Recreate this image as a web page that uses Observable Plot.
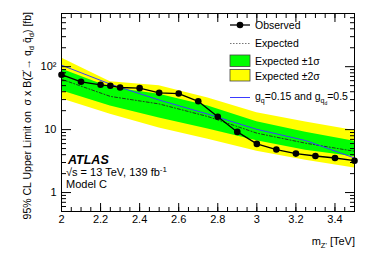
<!DOCTYPE html>
<html>
<head>
<meta charset="utf-8">
<script src="https://cdn.jsdelivr.net/npm/d3@7"></script>
<script src="https://cdn.jsdelivr.net/npm/@observablehq/plot@0.6"></script>
<style>
  html, body { margin: 0; padding: 0; background: white; }
  #chart { width: 374px; height: 253px; }
  svg text { font-family: "Liberation Sans", Arial, sans-serif; }
</style>
</head>
<body>
<div id="chart"></div>
<script>
// Observed limit points
const mass = [2.0, 2.1, 2.2, 2.25, 2.3, 2.4, 2.5, 2.6, 2.7, 2.8, 2.9, 3.0, 3.1, 3.2, 3.3, 3.4, 3.5];
const observed = [74.5, 57.5, 51.5, 49.7, 46.7, 45.6, 38.4, 37.4, 28.2, 16.0, 9.2, 5.93, 4.82, 4.16, 3.81, 3.54, 3.21];
// Expected limit and bands
const expMass = [2.0, 2.25, 2.5, 2.75, 3.0, 3.25, 3.5];
const expected = [63.1, 33.7, 25.6, 16.1, 8.79, 6.08, 4.53];
const minus1 = [41.3, 23.8, 15.3, 10.2, 6.67, 4.70, 3.70];
const plus1 = [91.9, 46.7, 36.6, 23.8, 13.3, 9.12, 6.55];
const minus2 = [30.8, 17.5, 10.6, 7.05, 4.53, 3.25, 2.45];
const plus2 = [137.8, 57.5, 49.7, 31.9, 18.6, 13.2, 9.64];
// Theory curve g_q=0.15, g_qd=0.5
const theory = [105.7, 52.8, 29.5, 17.6, 10.1, 6.7, 3.54];
// Ticks
const xMajor = [2, 2.2, 2.4, 2.6, 2.8, 3, 3.2, 3.4];
const xMinor = d3.range(2, 3.5001, 0.05).map(v => +v.toFixed(2));
const yMajor = [1, 10, 100];
const yMinor = [0.5, 0.6, 0.7, 0.8, 0.9, 2, 3, 4, 5, 6, 7, 8, 9, 20, 30, 40, 50, 60, 70, 80, 90, 200, 300, 400, 500, 600, 700];
const yLabels = {1: "1", 10: "10", 100: "10\u00B2"};

const obs = mass.map((m, i) => ({m, v: observed[i]}));
const band = expMass.map((m, i) => ({m, e: expected[i], lo1: minus1[i], hi1: plus1[i], lo2: minus2[i], hi2: plus2[i], th: theory[i]}));

const noText = () => "";
const plot = Plot.plot({
  width: 374, height: 253,
  marginLeft: 61, marginRight: 20, marginTop: 13, marginBottom: 42,
  style: {fontFamily: "Liberation Sans, Arial, sans-serif", fontSize: "11px", background: "white", color: "black"},
  x: {domain: [2, 3.5]},
  y: {type: "log", domain: [0.5, 700]},
  marks: [
    Plot.areaY(band, {x: "m", y1: "lo2", y2: "hi2", fill: "#ffff00"}),
    Plot.areaY(band, {x: "m", y1: "lo1", y2: "hi1", fill: "#00ff00"}),
    Plot.line(band, {x: "m", y: "e", stroke: "#1d3d1d", strokeWidth: 1, strokeDasharray: "3,2,1,2"}),
    Plot.line(band, {x: "m", y: "th", stroke: "#3a3aff", strokeWidth: 1}),
    Plot.line(obs, {x: "m", y: "v", stroke: "black", strokeWidth: 1.3}),
    Plot.dot(obs, {x: "m", y: "v", fill: "black", r: 3.3}),
    Plot.axisX(xMajor, {tickSize: -8, tickPadding: 12, tickFormat: d => String(d), label: null, fontSize: 11}),
    Plot.axisX(xMinor, {tickSize: -4, tickFormat: noText, label: null}),
    Plot.axisX(xMajor, {anchor: "top", tickSize: -8, tickFormat: noText, label: null}),
    Plot.axisX(xMinor, {anchor: "top", tickSize: -4, tickFormat: noText, label: null}),
    Plot.axisY(yMajor, {tickSize: -10, tickPadding: 15, tickFormat: d => yLabels[d], label: null, fontSize: 11}),
    Plot.axisY(yMinor, {tickSize: -5, tickFormat: noText, label: null}),
    Plot.axisY(yMajor, {anchor: "right", tickSize: -10, tickFormat: noText, label: null}),
    Plot.axisY(yMinor, {anchor: "right", tickSize: -5, tickFormat: noText, label: null}),
    Plot.frame({stroke: "black", strokeWidth: 1})
  ]
});
document.getElementById("chart").appendChild(plot);

const svg = d3.select(plot);
const F = "Liberation Sans, Arial, sans-serif";

// Y axis title
const yt = svg.append("text")
  .attr("transform", "translate(30.5,12) rotate(-90)")
  .attr("text-anchor", "end").attr("font-size", 10.5).attr("font-family", F).attr("fill", "black");
yt.append("tspan").text("95% CL Upper Limit on  \u03C3 x B(Z");
yt.append("tspan").attr("dy", -4).attr("font-size", 8).text("'");
yt.append("tspan").attr("dy", 4).text("\u2192 q");
yt.append("tspan").attr("dy", 3).attr("font-size", 7.5).text("d");
yt.append("tspan").attr("dy", -3).text(" q\u0304");
yt.append("tspan").attr("dy", 3).attr("font-size", 7.5).text("d");
yt.append("tspan").attr("dy", -3).text(") [fb]");

// X axis title
const xt = svg.append("text")
  .attr("x", 355).attr("y", 245)
  .attr("text-anchor", "end").attr("font-size", 11).attr("font-family", F).attr("fill", "black");
xt.append("tspan").text("m");
xt.append("tspan").attr("dy", 3).attr("font-size", 7.5).text("Z'");
xt.append("tspan").attr("dy", -3).text(" [TeV]");

// ATLAS label
const info = svg.append("g").attr("text-anchor", "start").attr("font-family", F);
info.append("text").attr("x", 68).attr("y", 164).attr("font-size", 12.5)
  .attr("font-weight", "bold").attr("font-style", "italic").text("ATLAS");
const en = info.append("text").attr("x", 66).attr("y", 176).attr("font-size", 11);
en.append("tspan").text("\u221As = 13 TeV, 139 fb");
en.append("tspan").attr("dy", -4).attr("font-size", 8).text("-1");
info.append("text").attr("x", 66).attr("y", 187.5).attr("font-size", 11).text("Model C");

// Legend
const lg = svg.append("g").attr("font-family", F).attr("font-size", 10.5).attr("text-anchor", "start");
const lx = 230, tx = 255;
lg.append("line").attr("x1", lx).attr("x2", lx + 20).attr("y1", 25).attr("y2", 25).attr("stroke", "black").attr("stroke-width", 1.3);
lg.append("circle").attr("cx", lx + 10).attr("cy", 25).attr("r", 3.3).attr("fill", "black");
lg.append("text").attr("x", tx).attr("y", 28.5).text("Observed");
lg.append("line").attr("x1", lx).attr("x2", lx + 20).attr("y1", 43.5).attr("y2", 43.5).attr("stroke", "#777").attr("stroke-width", 1).attr("stroke-dasharray", "1.5,1.5");
lg.append("text").attr("x", tx).attr("y", 47).text("Expected");
lg.append("rect").attr("x", lx).attr("y", 55).attr("width", 20).attr("height", 11.5).attr("fill", "#00ff00").attr("stroke", "#444").attr("stroke-width", 0.8);
lg.append("text").attr("x", tx).attr("y", 65).text("Expected \u00B11\u03C3");
lg.append("rect").attr("x", lx).attr("y", 69.5).attr("width", 20).attr("height", 11.5).attr("fill", "#ffff00").attr("stroke", "#444").attr("stroke-width", 0.8);
lg.append("text").attr("x", tx).attr("y", 79.5).text("Expected \u00B12\u03C3");
lg.append("line").attr("x1", lx).attr("x2", lx + 20).attr("y1", 97.5).attr("y2", 97.5).attr("stroke", "#3a3aff").attr("stroke-width", 1);
const gt = lg.append("text").attr("x", tx).attr("y", 100);
gt.append("tspan").text("g");
gt.append("tspan").attr("dy", 3).attr("font-size", 7).text("q");
gt.append("tspan").attr("dy", -3).text("=0.15 and g");
gt.append("tspan").attr("dy", 3).attr("font-size", 7).text("q");
gt.append("tspan").attr("dy", 1.5).attr("font-size", 5).text("d");
gt.append("tspan").attr("dy", -4.5).text("=0.5");
</script>
</body>
</html>
